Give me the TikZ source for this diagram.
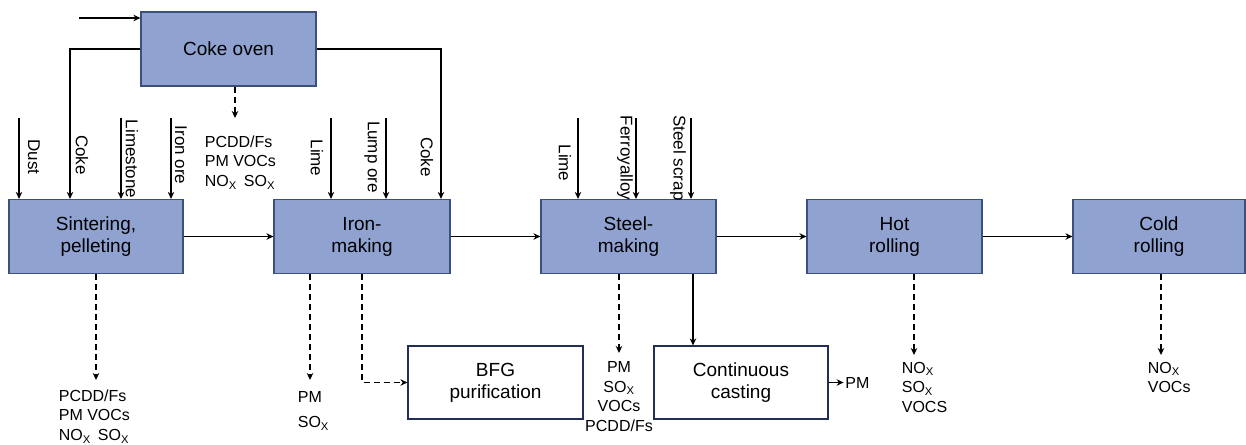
\documentclass[tikz,border=0pt]{standalone}
\usepackage{fontspec}
\setmainfont{Liberation Sans}
\usetikzlibrary{arrows.meta}
\definecolor{boxfill}{RGB}{143,162,208}
\definecolor{boxline}{RGB}{60,80,125}
\definecolor{wline}{RGB}{35,45,85}
\newcommand\subX{\textsubscript{X}}
\begin{document}
\begin{tikzpicture}[x=1pt,y=-1pt, line width=1.7pt,
  >={Stealth[length=7pt,width=6.5pt]},
  proc/.style={draw=boxline, fill=boxfill, line width=1.2pt, minimum width=175pt,
    minimum height=74pt, inner sep=0pt, align=center,
    font=\fontsize{19}{22}\selectfont},
  wproc/.style={proc, draw=wline, fill=white, minimum height=73pt},
  inlab/.style={rotate=-90, inner sep=0pt, font=\fontsize{17}{20}\selectfont},
  emis/.style={inner sep=0pt, align=left, font=\fontsize{16}{19.5}\selectfont},
  dsh/.style={->, dash pattern=on 6pt off 4pt}]
\useasboundingbox (0,0) rectangle (1246,444);

% process boxes
\node[proc] (coke) at (228.5,49) {Coke oven};
\node[proc, minimum width=174pt] (sin) at (96,236.5) {Sintering,\\pelleting};
\node[proc, minimum width=176pt] (iron) at (362,236.5) {Iron-\\making};
\node[proc] (steel) at (628.5,236.5) {Steel-\\making};
\node[proc] (hot) at (894.5,236.5) {Hot\\rolling};
\node[proc, minimum width=172pt] (cold) at (1159,236.5) {Cold\\rolling};
\node[wproc] (bfg) at (495.5,382.5) {BFG\\purification};
\node[wproc, minimum width=174pt] (cc) at (741,382.5) {Continuous\\casting};

% coke oven
\coordinate (cin) at (79,18);
\draw[->] (cin) -- (cin -| coke.west);
\draw[->] (coke.west) -| (sin.north -| 70,0);
\draw[->] (coke.east) -| (iron.north -| 441,0);
\coordinate (ckd) at (235,118);
\draw[dsh] (coke.south -| ckd) -- (ckd);
\node[emis, anchor=north west] (ecoke) at (204,135) {PCDD/Fs\\PM VOCs\\NO\subX{}\, SO\subX};

% sintering inputs
\coordinate (i1) at (19,118);
\coordinate (i2) at (121,118);
\coordinate (i3) at (171,118);
\draw[->] (i1) -- (i1 |- sin.north);
\draw[->] (i2) -- (i2 |- sin.north);
\draw[->] (i3) -- (i3 |- sin.north);
\node[inlab] (ldust) at (34,157) {Dust};
\node[inlab] (lcoke1) at (82,155) {Coke};
\node[inlab] (llime1) at (132,159) {Limestone};
\node[inlab] (liron) at (181,155) {Iron ore};

% iron-making inputs
\coordinate (j1) at (331,118);
\coordinate (j2) at (386,118);
\draw[->] (j1) -- (j1 |- iron.north);
\draw[->] (j2) -- (j2 |- iron.north);
\node[inlab] (llime2) at (317,158) {Lime};
\node[inlab] (llump) at (372,157) {Lump ore};
\node[inlab] (lcoke2) at (427,157) {Coke};

% steel-making inputs
\coordinate (k1) at (578,118);
\coordinate (k2) at (636,118);
\coordinate (k3) at (691,118);
\draw[->] (k1) -- (k1 |- steel.north);
\draw[->] (k2) -- (k2 |- steel.north);
\draw[->] (k3) -- (k3 |- steel.north);
\node[inlab] (llime3) at (565,163) {Lime};
\node[inlab] (lferro) at (625,158) {Ferroyalloy};
\node[inlab] (lscrap) at (678,158) {Steel scrap};

% main flow
\draw[->] (sin) -- (iron);
\draw[->] (iron) -- (steel);
\draw[->] (steel) -- (hot);
\draw[->] (hot) -- (cold);

% emissions
\coordinate (d1) at (96,380);
\draw[dsh] (sin.south) -- (d1);
\node[emis, anchor=north west] (esin) at (58,389) {PCDD/Fs\\PM VOCs\\NO\subX{}\, SO\subX};

\coordinate (d2) at (310,380);
\draw[dsh] (iron.south -| d2) -- (d2);
\node[emis, anchor=north west, font=\fontsize{16}{25}\selectfont] (eiron) at (297,391) {PM\\SO\subX};
\draw[dsh] (iron.south) |- (bfg.west);

\coordinate (d3) at (619,353);
\draw[dsh] (steel.south -| d3) -- (d3);
\node[emis, align=center, anchor=north, font=\fontsize{16}{19.5}\selectfont] (esteel) at (619,361) {PM\\SO\subX\\VOCs\\PCDD/Fs};
\draw[->] (steel.south -| 693,0) -- (cc.north -| 693,0);
\draw[->] (cc.east) -- ++(15,0) coordinate (pmc);
\node[emis, anchor=west] (epm) at ([xshift=1pt]pmc) {PM};

\coordinate (d4) at (914,355);
\draw[dsh] (hot.south -| d4) -- (d4);
\node[emis, anchor=north west] (ehot) at (901,361) {NO\subX\\SO\subX\\VOCS};

\coordinate (d5) at (1161,355);
\draw[dsh] (cold.south -| d5) -- (d5);
\node[emis, anchor=north west] (ecold) at (1147,361) {NO\subX\\VOCs};
\end{tikzpicture}
\end{document}
